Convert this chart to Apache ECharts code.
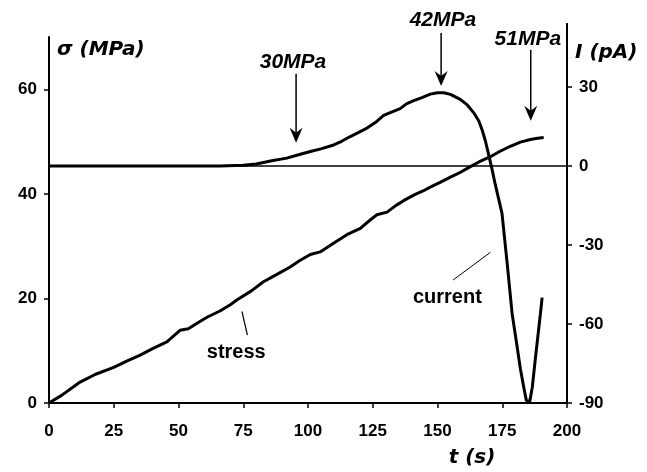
<!DOCTYPE html>
<html><head><meta charset="utf-8">
<script src="https://cdn.jsdelivr.net/npm/echarts@6.0.0/dist/echarts.min.js"></script>
<style>html,body{margin:0;padding:0;background:#fff}#c{width:647px;height:472px}</style>
</head><body><div id="c"></div>
<script>
// ---- data ----
const stressT = [0, 5, 12, 18, 25, 30, 35, 40, 45.5, 50.6, 53.8, 57, 61, 66, 70, 72.5, 78, 82.8, 88, 93.1, 97, 100.9, 104.7, 110, 115, 120.2, 124, 126.6, 130.5, 134, 136.9, 141, 144.6, 147.2, 151, 155, 158, 162.7, 166, 170.4, 174, 178.1, 182, 185.9, 188, 191];
const stressV = [0, 1.5, 4.0, 5.5, 6.8, 8.0, 9.1, 10.4, 11.7, 13.9, 14.2, 15.2, 16.4, 17.6, 18.8, 19.7, 21.4, 23.2, 24.6, 26.0, 27.3, 28.4, 28.9, 30.6, 32.2, 33.4, 35.0, 36.0, 36.5, 37.8, 38.7, 39.8, 40.6, 41.3, 42.2, 43.2, 43.9, 45.2, 46.1, 47.1, 48.1, 49.1, 49.9, 50.4, 50.6, 50.8];
const currentT = [0, 66, 75, 80, 86, 91.8, 96, 100.9, 105, 109.9, 113, 116.3, 119, 122.8, 126, 129.2, 132, 135.6, 138, 140.8, 144, 147.2, 150, 152.4, 155, 158.8, 161.5, 164, 166, 167.2, 168.5, 169.7, 171, 172.3, 174.9, 176.9, 178.8, 180.5, 182, 183.3, 184.3, 185.6, 186.6, 187.8, 189.7, 190.4];
const currentV = [0, 0, 0.3, 0.8, 2.0, 3.0, 4.2, 5.5, 6.5, 8.0, 9.4, 11.2, 12.5, 14.4, 16.5, 19.2, 20.4, 21.8, 23.6, 24.8, 26.0, 27.3, 27.8, 27.8, 27.2, 25.3, 23.2, 20.2, 17.0, 13.8, 9.5, 4.5, -1.0, -7.0, -18.0, -37, -56, -67, -77, -84, -89, -89.5, -84, -73, -56.4, -50];
const xTicks = [0, 25, 50, 75, 100, 125, 150, 175, 200];
const stressTicks = [0, 20, 40, 60];
const currentTicks = [-90, -60, -30, 0, 30];
// annotation texts (stress level markers) and their anchor points in data units (t, I)
const markerTexts = ['30MPa', '42MPa', '51MPa'];
const markerT = [95.4, 151.4, 186.0];
const markerTopI = [35.0, 50.5, 44.1];
const markerTipI = [8.8, 30.4, 17.2];
const markerLabelT = [94.2, 152.1, 184.9];
const markerLabelI = [39.5, 55.5, 48.2];

const chart = echarts.init(document.getElementById('c'), null, {renderer: 'canvas'});
const tickFont = {fontFamily: 'Liberation Sans, Arial', fontWeight: 'bold', fontSize: 17, color: '#000'};
const axisLineStyle = {show: true, onZero: false, lineStyle: {color: '#000', width: 2}};
const tickStyle = {show: true, length: 5, lineStyle: {color: '#000', width: 1.5}};

chart.setOption({
  animation: false,
  backgroundColor: '#fff',
  grid: {left: 49, right: 80, top: 37, bottom: 69, containLabel: false},
  xAxis: {
    type: 'value', min: 0, max: 200, interval: 25,
    axisLine: axisLineStyle, axisTick: Object.assign({}, tickStyle, {customValues: xTicks}),
    axisLabel: Object.assign({}, tickFont, {margin: 20, customValues: xTicks}),
    splitLine: {show: false}
  },
  yAxis: [{
    type: 'value', position: 'left', min: 0, max: 70,
    axisLine: axisLineStyle, axisTick: Object.assign({}, tickStyle, {customValues: stressTicks}),
    axisLabel: Object.assign({}, tickFont, {margin: 12, customValues: stressTicks}),
    splitLine: {show: false}
  }, {
    type: 'value', position: 'right', min: -90, max: 49,
    axisLine: axisLineStyle, axisTick: Object.assign({}, tickStyle, {customValues: currentTicks}),
    axisLabel: Object.assign({}, tickFont, {margin: 12, customValues: currentTicks}),
    splitLine: {show: false}
  }],
  series: [{
    name: 'stress', type: 'line', yAxisIndex: 0, symbol: 'none', smooth: false,
    lineStyle: {color: '#000', width: 3},
    data: stressT.map((t, i) => [t, stressV[i]])
  }, {
    name: 'current', type: 'line', yAxisIndex: 1, symbol: 'none', smooth: false,
    lineStyle: {color: '#000', width: 3},
    data: currentT.map((t, i) => [t, currentV[i]]),
    markLine: {
      silent: true, symbol: ['none', 'none'], label: {show: false},
      lineStyle: {color: '#000', width: 1.5, type: 'solid'},
      data: [{yAxis: 0}]
    }
  }]
});

function pS(t, v) { return chart.convertToPixel({xAxisIndex: 0, yAxisIndex: 0}, [t, v]); }
function pI(t, v) { return chart.convertToPixel({xAxisIndex: 0, yAxisIndex: 1}, [t, v]); }

const titleFont = 'italic bold 20px "DejaVu Sans"';
const annFont = 'italic bold 21px "Liberation Sans", Arial';
const lblFont = 'bold 20px "Liberation Sans", Arial';
const g = [];

// right axis extends slightly above the plot
const rTop = pI(200, 54.3), rEnd = pI(200, 49);
g.push({type: 'line', shape: {x1: rTop[0], y1: rTop[1], x2: rEnd[0], y2: rEnd[1]}, style: {stroke: '#000', lineWidth: 2}});

// axis titles
g.push({type: 'text', x: 57, y: 50, style: {text: 'σ (MPa)', font: titleFont, fill: '#000', align: 'left', verticalAlign: 'middle'}});
g.push({type: 'text', x: 575, y: 53, style: {text: 'I (pA)', font: titleFont, fill: '#000', align: 'left', verticalAlign: 'middle'}});
g.push({type: 'text', x: 472, y: 458, style: {text: 't (s)', font: titleFont, fill: '#000', align: 'center', verticalAlign: 'middle'}});

// stress-level arrows
markerTexts.forEach((txt, i) => {
  const top = pI(markerT[i], markerTopI[i]);
  const tip = pI(markerT[i], markerTipI[i]);
  const lab = pI(markerLabelT[i], markerLabelI[i]);
  g.push({type: 'line', shape: {x1: top[0], y1: top[1], x2: tip[0], y2: tip[1] - 8}, style: {stroke: '#000', lineWidth: 1.5}});
  g.push({type: 'polygon', shape: {points: [[tip[0], tip[1]], [tip[0] - 6.5, tip[1] - 15], [tip[0], tip[1] - 10], [tip[0] + 6.5, tip[1] - 15]]}, style: {fill: '#000'}});
  g.push({type: 'text', x: lab[0], y: lab[1], style: {text: txt, font: annFont, fill: '#000', align: 'center', verticalAlign: 'middle'}});
});

// curve labels with leader lines
const sl1 = pS(74.5, 17.5), sl2 = pS(76.6, 13.0), sLab = pS(72.3, 9.75);
g.push({type: 'line', shape: {x1: sl1[0], y1: sl1[1], x2: sl2[0], y2: sl2[1]}, style: {stroke: '#000', lineWidth: 1.2}});
g.push({type: 'text', x: sLab[0], y: sLab[1], style: {text: 'stress', font: lblFont, fill: '#000', align: 'center', verticalAlign: 'middle'}});
const cl1 = pI(170.4, -32.8), cl2 = pI(156, -43.3), cLab = pI(153.8, -49.8);
g.push({type: 'line', shape: {x1: cl1[0], y1: cl1[1], x2: cl2[0], y2: cl2[1]}, style: {stroke: '#000', lineWidth: 1}});
g.push({type: 'text', x: cLab[0], y: cLab[1], style: {text: 'current', font: lblFont, fill: '#000', align: 'center', verticalAlign: 'middle'}});

chart.setOption({graphic: g});
</script>
</body></html>
